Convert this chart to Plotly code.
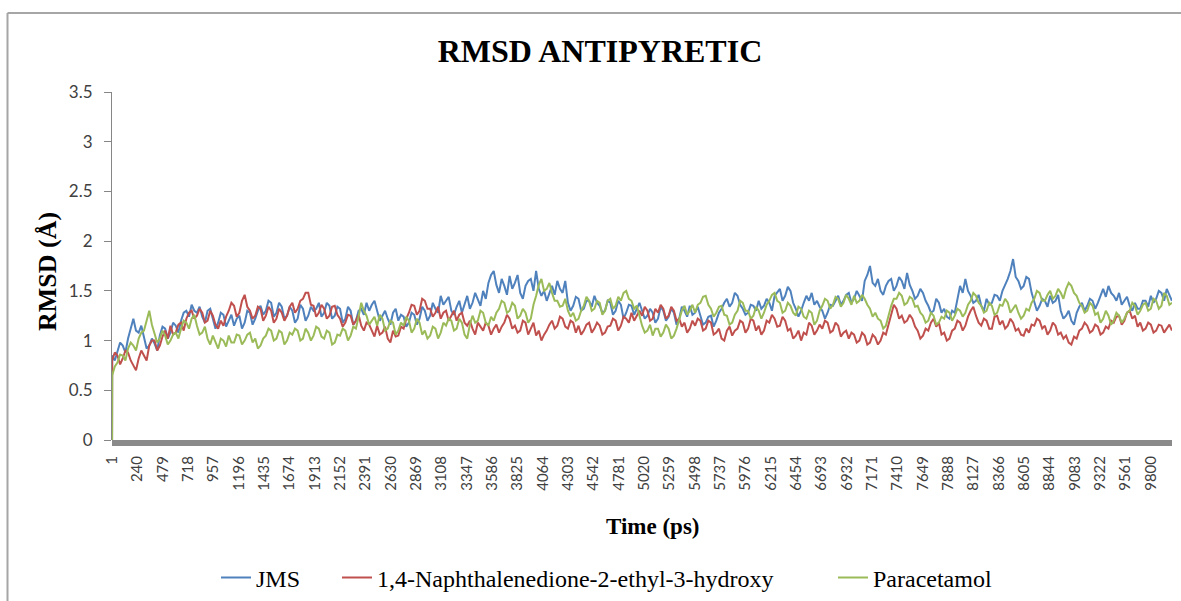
import plotly.graph_objects as go

# ---------------- data ----------------
# main samples every 50 ps (first point is the t=1 start value), plus in-between samples
time_index = [1] + [2 + 50 * k for k in range(200)] + [10001]
mid_index = [27 + 50 * k for k in range(200)]

jms = [0.0,
    0.85, 0.90, 0.95, 1.02, 1.22, 1.08, 1.02, 0.95, 0.97, 1.05,
    1.12, 1.08, 1.15, 1.20, 1.30, 1.36, 1.28, 1.24, 1.30, 1.22,
    1.18, 1.26, 1.20, 1.15, 1.25, 1.18, 1.28, 1.22, 1.35, 1.30,
    1.38, 1.28, 1.34, 1.25, 1.30, 1.22, 1.32, 1.25, 1.30, 1.38,
    1.28, 1.35, 1.25, 1.32, 1.22, 1.30, 1.20, 1.32, 1.38, 1.36,
    1.30, 1.25, 1.22, 1.28, 1.20, 1.24, 1.18, 1.26, 1.22, 1.30,
    1.25, 1.32, 1.45, 1.40, 1.30, 1.34, 1.28, 1.45, 1.38, 1.42,
    1.50, 1.58, 1.70, 1.48, 1.55, 1.65, 1.58, 1.48, 1.55, 1.62,
    1.70, 1.45, 1.40, 1.55, 1.60, 1.48, 1.38, 1.35, 1.42, 1.32,
    1.40, 1.45, 1.35, 1.30, 1.38, 1.30, 1.36, 1.28, 1.35, 1.32,
    1.30, 1.25, 1.28, 1.22, 1.30, 1.24, 1.28, 1.22, 1.30, 1.35,
    1.28, 1.25, 1.18, 1.25, 1.20, 1.32, 1.42, 1.38, 1.45, 1.32,
    1.28, 1.35, 1.40, 1.35, 1.38, 1.45, 1.52, 1.45, 1.50, 1.32,
    1.30, 1.45, 1.48, 1.40, 1.30, 1.28, 1.35, 1.45, 1.40, 1.48,
    1.42, 1.45, 1.60, 1.75, 1.55, 1.50, 1.55, 1.62, 1.55, 1.60,
    1.68, 1.50, 1.45, 1.48, 1.35, 1.30, 1.38, 1.32, 1.22, 1.28,
    1.55, 1.62, 1.45, 1.40, 1.35, 1.42, 1.38, 1.45, 1.50, 1.62,
    1.82, 1.60, 1.55, 1.62, 1.40, 1.35, 1.40, 1.45, 1.40, 1.30,
    1.25, 1.20, 1.28, 1.38, 1.35, 1.40, 1.38, 1.52, 1.55, 1.45,
    1.48, 1.40, 1.35, 1.38, 1.32, 1.40, 1.45, 1.42, 1.48, 1.52,
    1.40]
jms_mid = [
    0.80, 0.98, 0.88, 1.12, 1.10, 1.15, 0.92, 1.02, 0.90, 1.14,
    1.02, 1.18, 1.08, 1.28, 1.24, 1.30, 1.34, 1.18, 1.32, 1.12,
    1.28, 1.14, 1.26, 1.22, 1.12, 1.30, 1.16, 1.30, 1.26, 1.40,
    1.24, 1.38, 1.22, 1.34, 1.18, 1.36, 1.20, 1.34, 1.32, 1.24,
    1.38, 1.22, 1.34, 1.18, 1.34, 1.16, 1.30, 1.26, 1.30, 1.40,
    1.20, 1.30, 1.16, 1.32, 1.26, 1.14, 1.28, 1.16, 1.34, 1.20,
    1.38, 1.28, 1.36, 1.44, 1.26, 1.40, 1.36, 1.32, 1.48, 1.35,
    1.42, 1.66, 1.56, 1.62, 1.46, 1.52, 1.66, 1.42, 1.60, 1.50,
    1.52, 1.50, 1.48, 1.46, 1.52, 1.60, 1.30, 1.44, 1.30, 1.40,
    1.34, 1.38, 1.28, 1.40, 1.26, 1.40, 1.22, 1.36, 1.26, 1.38,
    1.22, 1.32, 1.18, 1.34, 1.20, 1.32, 1.16, 1.34, 1.24, 1.26,
    1.34, 1.16, 1.24, 1.14, 1.28, 1.38, 1.34, 1.48, 1.36, 1.26,
    1.36, 1.30, 1.32, 1.42, 1.30, 1.48, 1.40, 1.54, 1.38, 1.24,
    1.38, 1.40, 1.36, 1.34, 1.22, 1.36, 1.40, 1.36, 1.46, 1.38,
    1.50, 1.40, 1.66, 1.58, 1.62, 1.46, 1.60, 1.50, 1.64, 1.52,
    1.56, 1.42, 1.52, 1.40, 1.28, 1.42, 1.28, 1.24, 1.30, 1.40,
    1.48, 1.50, 1.38, 1.46, 1.30, 1.36, 1.46, 1.40, 1.56, 1.70,
    1.64, 1.52, 1.64, 1.48, 1.30, 1.42, 1.34, 1.38, 1.46, 1.22,
    1.30, 1.16, 1.34, 1.30, 1.42, 1.32, 1.46, 1.44, 1.48, 1.40,
    1.36, 1.44, 1.30, 1.32, 1.40, 1.34, 1.38, 1.50, 1.40, 1.46]

naphtho = [0.0,
    0.80, 0.85, 0.82, 0.88, 0.75, 0.82, 0.85, 0.95, 1.00, 0.95,
    1.10, 1.15, 1.08, 1.18, 1.22, 1.30, 1.25, 1.28, 1.20, 1.25,
    1.12, 1.15, 1.30, 1.35, 1.28, 1.46, 1.30, 1.25, 1.32, 1.25,
    1.30, 1.22, 1.28, 1.25, 1.38, 1.32, 1.42, 1.48, 1.35, 1.28,
    1.32, 1.25, 1.35, 1.22, 1.18, 1.25, 1.20, 1.15, 1.18, 1.10,
    1.15, 1.08, 1.02, 1.10, 1.05, 1.12, 1.28, 1.35, 1.30, 1.40,
    1.32, 1.28, 1.22, 1.30, 1.25, 1.20, 1.28, 1.15, 1.12, 1.18,
    1.10, 1.15, 1.12, 1.08, 1.18, 1.22, 1.15, 1.10, 1.18, 1.12,
    1.05, 1.00, 1.10, 1.20, 1.15, 1.22, 1.12, 1.18, 1.15, 1.10,
    1.18, 1.12, 1.15, 1.08, 1.15, 1.20, 1.15, 1.22, 1.28, 1.25,
    1.25, 1.30, 1.22, 1.28, 1.32, 1.25, 1.30, 1.22, 1.18, 1.12,
    1.15, 1.20, 1.12, 1.18, 1.08, 1.02, 1.10, 1.05, 1.12, 1.18,
    1.12, 1.20, 1.15, 1.10, 1.18, 1.22, 1.15, 1.20, 1.12, 1.05,
    1.00, 1.06, 1.15, 1.10, 1.12, 1.18, 1.10, 1.15, 1.08, 1.02,
    1.06, 1.00, 1.05, 0.98, 1.03, 1.00, 1.06, 1.25, 1.32, 1.25,
    1.20, 1.22, 1.10, 1.05, 1.10, 1.22, 1.18, 1.08, 1.02, 1.12,
    1.18, 1.15, 1.30, 1.25, 1.15, 1.20, 1.12, 1.25, 1.20, 1.15,
    1.18, 1.12, 1.05, 1.08, 1.15, 1.20, 1.15, 1.10, 1.15, 1.08,
    1.05, 0.96, 1.02, 1.12, 1.15, 1.10, 1.14, 1.08, 1.12, 1.18,
    1.25, 1.20, 1.30, 1.25, 1.18, 1.12, 1.16, 1.10, 1.15, 1.12,
    1.10]
naphtho_mid = [
    0.88, 0.76, 0.90, 0.80, 0.70, 0.90, 0.80, 1.00, 0.90, 1.04,
    1.02, 1.06, 1.16, 1.10, 1.28, 1.22, 1.32, 1.18, 1.30, 1.16,
    1.20, 1.24, 1.38, 1.24, 1.40, 1.34, 1.22, 1.34, 1.20, 1.34,
    1.18, 1.32, 1.20, 1.34, 1.28, 1.40, 1.48, 1.36, 1.24, 1.36,
    1.22, 1.34, 1.26, 1.14, 1.26, 1.16, 1.26, 1.10, 1.16, 1.04,
    1.06, 1.14, 0.98, 1.04, 1.14, 1.22, 1.36, 1.26, 1.42, 1.32,
    1.24, 1.34, 1.28, 1.20, 1.30, 1.26, 1.18, 1.20, 1.06, 1.14,
    1.18, 1.06, 1.16, 1.14, 1.26, 1.12, 1.08, 1.20, 1.06, 1.18,
    1.10, 1.06, 1.16, 1.12, 1.24, 1.14, 1.20, 1.08, 1.06, 1.16,
    1.08, 1.18, 1.06, 1.14, 1.22, 1.10, 1.24, 1.18, 1.20, 1.30,
    1.34, 1.20, 1.32, 1.36, 1.22, 1.34, 1.20, 1.14, 1.08, 1.20,
    1.22, 1.10, 1.20, 1.06, 1.12, 1.00, 1.14, 1.10, 1.20, 1.08,
    1.22, 1.10, 1.06, 1.20, 1.26, 1.14, 1.24, 1.10, 1.02, 1.10,
    1.08, 1.18, 1.06, 1.16, 1.20, 1.08, 1.18, 1.04, 1.10, 1.08,
    0.98, 1.08, 0.96, 1.06, 0.96, 1.08, 1.16, 1.36, 1.22, 1.18,
    1.26, 1.14, 1.02, 1.12, 1.18, 1.14, 1.06, 1.00, 1.10, 1.20,
    1.10, 1.24, 1.34, 1.18, 1.22, 1.12, 1.24, 1.16, 1.12, 1.22,
    1.10, 1.06, 1.12, 1.16, 1.22, 1.12, 1.06, 1.18, 1.06, 1.02,
    0.98, 1.04, 1.10, 1.18, 1.08, 1.16, 1.06, 1.14, 1.20, 1.24,
    1.16, 1.28, 1.22, 1.14, 1.10, 1.18, 1.08, 1.16, 1.08, 1.16]

paracetamol = [0.0,
    0.65, 0.78, 0.85, 0.92, 0.95, 1.02, 1.10, 1.30, 1.08, 1.02,
    1.05, 1.00, 1.08, 1.12, 1.18, 1.22, 1.15, 1.08, 1.02, 1.05,
    0.92, 1.00, 1.05, 0.98, 1.05, 1.00, 1.08, 1.02, 0.95, 1.05,
    1.10, 1.02, 1.08, 1.00, 1.06, 1.10, 1.02, 1.08, 1.05, 1.12,
    1.02, 1.08, 0.98, 1.05, 1.10, 1.05, 1.12, 1.38, 1.25, 1.20,
    1.15, 1.22, 1.12, 1.18, 1.10, 1.15, 1.20, 1.12, 1.18, 1.10,
    1.05, 1.12, 1.08, 1.15, 1.20, 1.12, 1.18, 1.02, 1.25, 1.20,
    1.28, 1.15, 1.20, 1.32, 1.38, 1.30, 1.35, 1.25, 1.28, 1.22,
    1.45, 1.62, 1.52, 1.48, 1.40, 1.35, 1.30, 1.28, 1.22, 1.35,
    1.40, 1.32, 1.38, 1.30, 1.42, 1.35, 1.40, 1.50, 1.40, 1.35,
    1.15, 1.10, 1.05, 1.12, 1.08, 1.12, 1.05, 1.20, 1.35, 1.30,
    1.28, 1.38, 1.45, 1.32, 1.28, 1.35, 1.25, 1.18, 1.30, 1.38,
    1.30, 1.25, 1.30, 1.28, 1.40, 1.48, 1.38, 1.30, 1.35, 1.25,
    1.32, 1.22, 1.28, 1.20, 1.35, 1.40, 1.36, 1.42, 1.38, 1.42,
    1.45, 1.40, 1.42, 1.32, 1.28, 1.20, 1.15, 1.35, 1.42, 1.45,
    1.38, 1.42, 1.35, 1.25, 1.20, 1.25, 1.18, 1.22, 1.28, 1.25,
    1.30, 1.28, 1.40, 1.45, 1.35, 1.30, 1.35, 1.28, 1.35, 1.38,
    1.32, 1.28, 1.25, 1.30, 1.42, 1.48, 1.40, 1.50, 1.45, 1.48,
    1.52, 1.55, 1.45, 1.35, 1.30, 1.35, 1.28, 1.22, 1.25, 1.20,
    1.25, 1.22, 1.30, 1.35, 1.30, 1.38, 1.32, 1.40, 1.35, 1.45,
    1.38]
paracetamol_mid = [
    0.74, 0.86, 0.80, 0.98, 0.90, 1.08, 1.20, 1.16, 0.98, 1.10,
    0.96, 1.06, 1.02, 1.20, 1.12, 1.26, 1.06, 1.14, 0.96, 0.98,
    1.02, 0.94, 0.98, 1.06, 0.96, 1.06, 0.98, 0.92, 1.02, 1.12,
    1.00, 1.10, 0.96, 1.08, 1.12, 1.00, 1.12, 1.00, 1.14, 1.04,
    1.10, 0.96, 1.06, 1.12, 1.00, 1.14, 1.24, 1.30, 1.16, 1.24,
    1.26, 1.10, 1.20, 1.06, 1.18, 1.24, 1.08, 1.22, 1.06, 1.02,
    1.14, 1.02, 1.18, 1.22, 1.10, 1.22, 1.06, 1.16, 1.18, 1.30,
    1.18, 1.24, 1.28, 1.40, 1.28, 1.38, 1.22, 1.32, 1.18, 1.36,
    1.56, 1.50, 1.58, 1.40, 1.34, 1.42, 1.24, 1.20, 1.30, 1.44,
    1.30, 1.40, 1.26, 1.40, 1.32, 1.44, 1.48, 1.42, 1.32, 1.24,
    1.08, 1.16, 1.12, 1.04, 1.16, 1.02, 1.12, 1.30, 1.26, 1.36,
    1.36, 1.44, 1.36, 1.24, 1.34, 1.26, 1.16, 1.26, 1.40, 1.30,
    1.22, 1.34, 1.22, 1.36, 1.46, 1.40, 1.28, 1.38, 1.28, 1.34,
    1.24, 1.30, 1.16, 1.30, 1.42, 1.32, 1.44, 1.34, 1.46, 1.36,
    1.38, 1.46, 1.36, 1.24, 1.22, 1.12, 1.26, 1.42, 1.48, 1.36,
    1.44, 1.34, 1.28, 1.18, 1.28, 1.16, 1.24, 1.30, 1.20, 1.32,
    1.24, 1.36, 1.48, 1.38, 1.28, 1.38, 1.26, 1.36, 1.42, 1.28,
    1.36, 1.22, 1.32, 1.38, 1.50, 1.40, 1.46, 1.42, 1.52, 1.42,
    1.58, 1.48, 1.38, 1.28, 1.38, 1.26, 1.18, 1.30, 1.16, 1.28,
    1.18, 1.28, 1.38, 1.26, 1.36, 1.30, 1.42, 1.32, 1.48, 1.36]

series_names = ["JMS", "1,4-Naphthalenedione-2-ethyl-3-hydroxy", "Paracetamol"]
series_main = [jms, naphtho, paracetamol]
series_mid = [jms_mid, naphtho_mid, paracetamol_mid]
series_colors = ["#4F81BD", "#C0504D", "#9BBB59"]

x_tick_labels = [1, 240, 479, 718, 957, 1196, 1435, 1674, 1913, 2152, 2391, 2630,
                 2869, 3108, 3347, 3586, 3825, 4064, 4303, 4542, 4781, 5020, 5259,
                 5498, 5737, 5976, 6215, 6454, 6693, 6932, 7171, 7410, 7649, 7888,
                 8127, 8366, 8605, 8844, 9083, 9322, 9561, 9800]
y_ticks = [0, 0.5, 1, 1.5, 2, 2.5, 3, 3.5]


def merge(main, mid):
    xs, ys = [time_index[0]], [main[0]]
    for k in range(len(mid)):
        xs += [time_index[k + 1], mid_index[k]]
        ys += [main[k + 1], mid[k]]
    xs.append(time_index[-1])
    ys.append(main[-1])
    return xs, ys


# ---------------- figure ----------------
W, H = 1181, 601
L, R, T, B = 112, 9, 92, 161
PW, PH = W - L - R, H - T - B

def px_x(p):
    return (p - L) / PW

def px_y(p):
    return (H - B - p) / PH

legend_ids = ["legend", "legend2", "legend3"]
legend_left_px = [216, 337, 833]

fig = go.Figure()
for name, main, mid, col, lid in zip(series_names, series_main, series_mid, series_colors, legend_ids):
    xs, ys = merge(main, mid)
    fig.add_trace(go.Scatter(x=xs, y=ys, mode="lines", name=name, legend=lid,
                             line=dict(color=col, width=2.0)))

tick_font = dict(family="Lato", size=17, color="#404040")
serif = "Liberation Serif"

legend_common = dict(orientation="h", yref="container", y=1 - 578 / H, yanchor="middle",
                     xref="container", xanchor="left",
                     font=dict(family=serif, size=24, color="black"),
                     bgcolor="rgba(0,0,0,0)", borderwidth=0)

layout_legends = {}
for lid, lx in zip(legend_ids, legend_left_px):
    layout_legends[lid] = dict(legend_common, x=lx / W)

fig.update_layout(
    width=W, height=H, autosize=False,
    margin=dict(l=L, r=R, t=T, b=B, pad=0),
    paper_bgcolor="white", plot_bgcolor="white",
    title=dict(text="<b>RMSD ANTIPYRETIC</b>", x=600 / W, xref="container", xanchor="center",
               y=1 - 51 / H, yref="container", yanchor="middle",
               font=dict(family=serif, size=32, color="black")),
    xaxis=dict(range=[0.5, 10001.5], showgrid=False, zeroline=False, showline=False,
               automargin=False,
               tickmode="array", tickvals=x_tick_labels, ticktext=[str(v) for v in x_tick_labels],
               tickangle=-90, ticks="", ticklabelstandoff=12,
               tickfont=dict(family="Lato", size=15, color="#404040")),
    yaxis=dict(range=[0, 3.5], tickmode="array", tickvals=y_ticks, showgrid=False, zeroline=False,
               automargin=False,
               showline=True, linecolor="#868686", linewidth=1,
               ticks="outside", ticklen=7, tickcolor="#868686", ticklabelstandoff=8,
               tickfont=tick_font),
    showlegend=True,
    annotations=[
        dict(text="<b>RMSD (Å)</b>", xref="paper", yref="paper", x=px_x(47), y=px_y(272),
             xanchor="center", yanchor="middle", textangle=-90, showarrow=False,
             font=dict(family=serif, size=26, color="black")),
        dict(text="<b>Time (ps)</b>", xref="paper", yref="paper", x=px_x(653), y=px_y(526),
             xanchor="center", yanchor="middle", showarrow=False,
             font=dict(family=serif, size=23, color="black")),
    ],
    shapes=[
        # thick grey category-axis bar
        dict(type="rect", xref="paper", yref="paper", x0=0, x1=px_x(1172), y0=px_y(446), y1=0,
             fillcolor="#8a8a8a", line=dict(width=0), layer="above"),
        # chart-area border (left and top)
        dict(type="line", xref="paper", yref="paper", x0=px_x(7.5), x1=px_x(7.5), y0=px_y(610), y1=px_y(13),
             line=dict(color="#a6a6a6", width=2)),
        dict(type="line", xref="paper", yref="paper", x0=px_x(7.5), x1=px_x(1190), y0=px_y(13), y1=px_y(13),
             line=dict(color="#a6a6a6", width=2)),
    ],
    **layout_legends,
)

fig.write_html("out.html", config={"displayModeBar": False},
               post_script="document.body.style.margin='0';document.body.style.overflow='hidden';")
